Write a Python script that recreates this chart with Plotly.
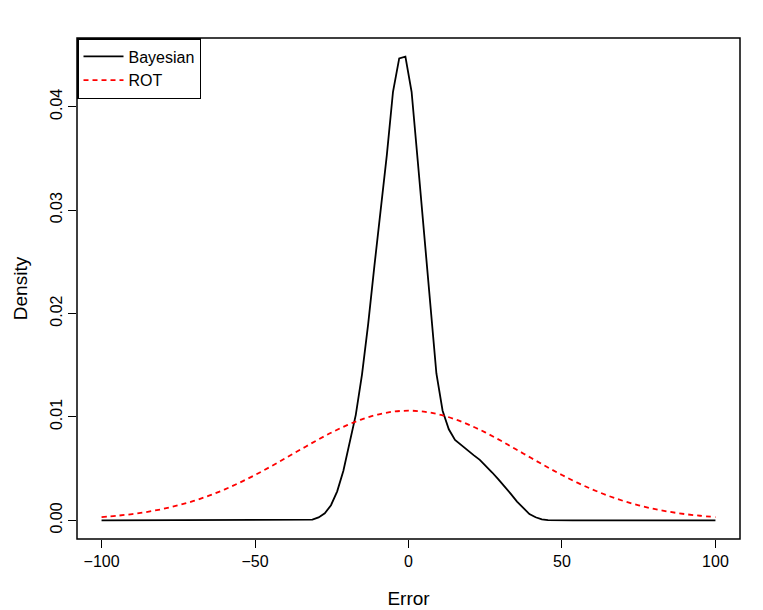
import numpy as np
import plotly.graph_objects as go

# evaluation grid of the Bayesian density (100 points over [-100, 100])
bayes_x = np.linspace(-100, 100, 100)
bayes_y = (
    [0.0] * 33
    + [0.00001, 0.00006, 0.00028, 0.00067, 0.00146, 0.0028, 0.0048, 0.0075,
       0.0102, 0.0141, 0.0190, 0.0246, 0.0299, 0.0353, 0.04145, 0.04468,
       0.04484, 0.04145, 0.0347, 0.0280, 0.0208, 0.0142, 0.0106, 0.00880,
       0.00778, 0.00726, 0.00677, 0.0063, 0.00584, 0.00525, 0.00462, 0.00396,
       0.00329, 0.00255, 0.00181, 0.00117, 0.0006, 0.00029, 0.00008, 0.00002]
    + [0.0] * 27
)

rot_x = list(range(-100, 101, 5))
rot_y = [0.00031, 0.00044, 0.00060, 0.00082, 0.00110, 0.00145, 0.00187, 0.00238,
         0.00297, 0.00364, 0.00438, 0.00518, 0.00602, 0.00687, 0.00771, 0.00850,
         0.00920, 0.00979, 0.01023, 0.01051, 0.01060, 0.01051, 0.01023, 0.00979,
         0.00920, 0.00850, 0.00771, 0.00687, 0.00602, 0.00518, 0.00438, 0.00364,
         0.00297, 0.00238, 0.00187, 0.00145, 0.00110, 0.00082, 0.00060, 0.00044,
         0.00031]

x_ticks = [-100, -50, 0, 50, 100]
y_ticks = [0.00, 0.01, 0.02, 0.03, 0.04]

font = dict(family="Liberation Sans, Arial, sans-serif", size=16, color="black")

fig = go.Figure()
fig.add_trace(go.Scatter(
    x=bayes_x, y=bayes_y, mode="lines", name="Bayesian",
    line=dict(color="black", width=1.8),
))
fig.add_trace(go.Scatter(
    x=rot_x, y=rot_y, mode="lines", name="ROT",
    line=dict(color="red", width=1.8, dash="5px,4px", shape="spline"),
))

# page body has an 8px margin, so the figure is a bit smaller than the window
fig.update_layout(
    width=755, height=602,
    margin=dict(l=69, r=23, t=30, b=71),
    paper_bgcolor="white", plot_bgcolor="white",
    font=font,
    showlegend=True,
    legend=dict(
        x=0, y=1, xanchor="left", yanchor="top",
        bordercolor="black", borderwidth=1.5,
        bgcolor="white", font=font,
        tracegroupgap=0, itemwidth=40,
    ),
)
fig.update_xaxes(
    range=[-108, 108], tickvals=x_ticks, automargin=False,
    ticks="outside", ticklen=8, tickwidth=1.2, tickcolor="black",
    showgrid=False, zeroline=False, showline=False,
    title=dict(text="Error", standoff=22),
)
fig.update_yaxes(
    range=[-0.00181, 0.04665], tickvals=y_ticks, tickformat=".2f",
    tickangle=-90, automargin=False,
    ticks="outside", ticklen=8, tickwidth=1.2, tickcolor="black",
    showgrid=False, zeroline=False, showline=False,
    title=dict(text="Density", standoff=14),
)
# plot box
fig.add_shape(type="rect", xref="paper", yref="paper", x0=0, y0=0, x1=1, y1=1,
              line=dict(color="black", width=1.5))

fig.write_html("out.html")
